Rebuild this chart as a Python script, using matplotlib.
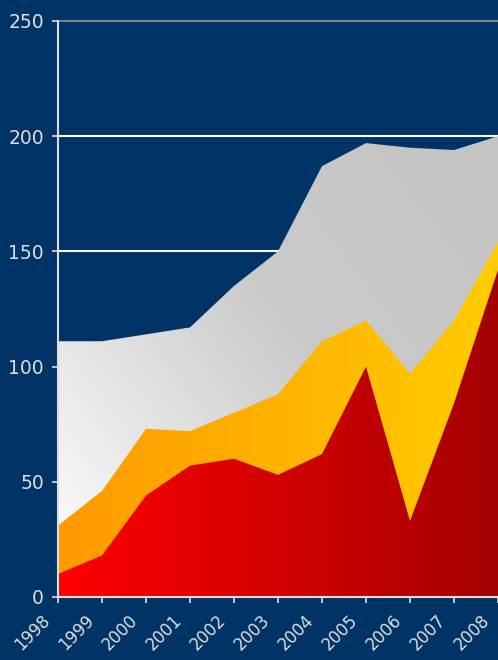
import numpy as np
import matplotlib
matplotlib.use("Agg")
import matplotlib.pyplot as plt
import matplotlib.transforms as mtransforms
from matplotlib.patches import Polygon
from matplotlib.colors import LinearSegmentedColormap

years = [1998, 1999, 2000, 2001, 2002, 2003, 2004, 2005, 2006, 2007, 2008]
gray_vals = [111, 111, 114, 117, 135, 150, 187, 197, 195, 194, 200]
orange_vals = [31, 46, 73, 72, 80, 88, 111, 120, 97, 120, 154]
red_vals = [10, 18, 44, 57, 60, 53, 62, 100, 33, 84, 142]
yticks = [0, 50, 100, 150, 200, 250]

BG = "#003366"
TXT = "#e6e6e6"

fig = plt.figure(figsize=(4.98, 6.6), dpi=100, facecolor=BG)
ax = fig.add_axes([58 / 498, 63 / 660, 440 / 498, 576 / 660])
ax.set_facecolor(BG)
ax.set_xlim(years[0], years[-1])
ax.set_ylim(0, 250)

# gridlines
for y in yticks[1:-1]:
    ax.axhline(y, color="white", lw=1.5, zorder=1)
ax.axhline(250, color="#808080", lw=1.5, zorder=1, clip_on=False)


def gradient_area(vals, cmap, mode, z):
    verts = list(zip(years, vals)) + [(years[-1], 0), (years[0], 0)]
    patch = Polygon(verts, closed=True, facecolor="none", edgecolor="none")
    ax.add_patch(patch)
    xx, yy = np.meshgrid(np.linspace(0, 1, 300), np.linspace(0, 1, 300))
    if mode == "h":
        g = xx
    else:
        g = (xx + yy) / 2
    im = ax.imshow(g, extent=[years[0], years[-1], 0, 250], origin="lower",
                   aspect="auto", cmap=cmap, zorder=z, interpolation="bilinear")
    im.set_clip_path(patch)


gray_cmap = LinearSegmentedColormap.from_list("g", ["#ffffff", "#cacaca", "#c2c2c2"])
orange_cmap = LinearSegmentedColormap.from_list("o", ["#ff9900", "#ffb300", "#ffcc00"])
red_cmap = LinearSegmentedColormap.from_list("r", ["#ff0000", "#d20000", "#a40000"])

gradient_area(gray_vals, gray_cmap, "d", 2)
gradient_area(orange_vals, orange_cmap, "h", 3)
gradient_area(red_vals, red_cmap, "h", 4)

ax.set_xlim(years[0], years[-1])
ax.set_ylim(0, 250)

for s in ["top", "right"]:
    ax.spines[s].set_visible(False)
for s in ["left", "bottom"]:
    ax.spines[s].set_color("#dddddd")
    ax.spines[s].set_linewidth(1.5)
    ax.spines[s].set_zorder(6)

ax.set_yticks(yticks)
ax.set_yticklabels([str(v) for v in yticks], fontsize=13.5, color=TXT)
ax.set_xticks(years)
ax.set_xticklabels([str(v) for v in years], fontsize=12, color=TXT,
                   rotation=45, ha="right", rotation_mode="anchor")
ax.tick_params(axis="both", colors="#dddddd", length=4, width=1.2)
ax.tick_params(axis="x", pad=5)
ax.tick_params(axis="y", pad=6)

# nudge the year labels left so they sit under their ticks like the original
shift = mtransforms.ScaledTranslation(-0.17, -0.02, fig.dpi_scale_trans)
for lbl in ax.get_xticklabels():
    lbl.set_transform(lbl.get_transform() + shift)

fig.savefig("out.png", dpi=100, facecolor=BG)
